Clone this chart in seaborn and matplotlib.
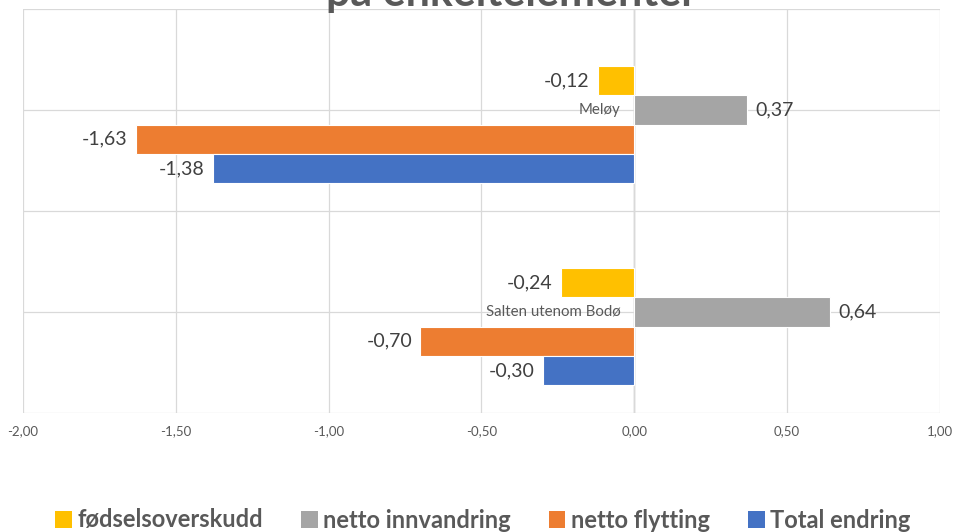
import pandas as pd
import matplotlib.pyplot as plt
import seaborn as sns
from matplotlib.patches import Patch

sns.set_theme(style="white")
plt.rcParams['font.family'] = ['Lato', 'DejaVu Sans']

# data
regions = ["Meløy", "Salten utenom Bodø"]
series = ["fødselsoverskudd", "netto innvandring", "netto flytting", "Total endring"]
meloy = [-0.12, 0.37, -1.63, -1.38]
salten = [-0.24, 0.64, -0.70, -0.30]
colors = ["#FFC000", "#A5A5A5", "#ED7D31", "#4472C4"]
x_ticks = [-2.0, -1.5, -1.0, -0.5, 0.0, 0.5, 1.0]

rows = []
for s, a, b in zip(series, meloy, salten):
    rows.append({"Region": regions[0], "Serie": s, "Verdi": a})
    rows.append({"Region": regions[1], "Serie": s, "Verdi": b})
dt = pd.DataFrame(rows)

# empty slot at the top of each group (as in the original chart)
hue_order = [" "] + series
palette = dict(zip(hue_order, ["#FFFFFF"] + colors))

fig = plt.figure(figsize=(9.56, 5.32), dpi=100)
ax = fig.add_axes([23/956, 1 - 413/532, (940 - 23)/956, (413 - 9)/532])

sns.barplot(data=dt, y="Region", x="Verdi", hue="Serie", hue_order=hue_order,
            palette=palette, order=regions, orient="h", width=0.725, gap=0,
            saturation=1, edgecolor="white", linewidth=0.8, legend=False, ax=ax)

for c in ax.containers:
    labels = [f"{v:.2f}".replace(".", ",") for v in c.datavalues]
    ax.bar_label(c, labels=labels, padding=6, fontsize=14, color="#404040")

# category labels next to the zero line
for i, r in enumerate(regions):
    ax.annotate(r, xy=(0, i), xytext=(-10, 0), textcoords="offset points",
                ha="right", va="center", fontsize=10.8, color="#595959")

ax.set_xlim(-2.0, 1.0)
ax.set_ylim(1.5, -0.5)
ax.set_xticks(x_ticks)
ax.set_xticklabels([f"{t:.2f}".replace(".", ",") for t in x_ticks])
ax.set_yticks([-0.5, 0, 0.5, 1, 1.5])
ax.set_yticklabels([])
ax.grid(True, color="#D9D9D9", linewidth=0.9)
ax.set_axisbelow(True)
ax.axvline(0, color="#BFBFBF", linewidth=1.0, zorder=0.5)
for sp in ax.spines.values():
    sp.set_visible(False)
ax.tick_params(axis="x", length=0, pad=9, labelsize=9.5, labelcolor="#595959")
ax.tick_params(axis="y", length=0)
ax.set_xlabel("")
ax.set_ylabel("")

# title (cut at the top edge in the original)
fig.text(512/956, 1 - 6/532, "på enkeltelementer", ha="center", va="baseline",
         fontsize=31, fontweight="bold", color="#595959")

handles = [Patch(facecolor=c, edgecolor="none") for c in colors]
leg = fig.legend(handles, series, loc="center", bbox_to_anchor=(483/956, 1 - 520/532),
                 ncol=4, frameon=False, handlelength=0.7, handleheight=0.7,
                 handletextpad=0.25, columnspacing=1.6,
                 prop={"weight": "bold", "size": 17})
for t in leg.get_texts():
    t.set_color("#595959")

plt.savefig("out.png", dpi=100)
